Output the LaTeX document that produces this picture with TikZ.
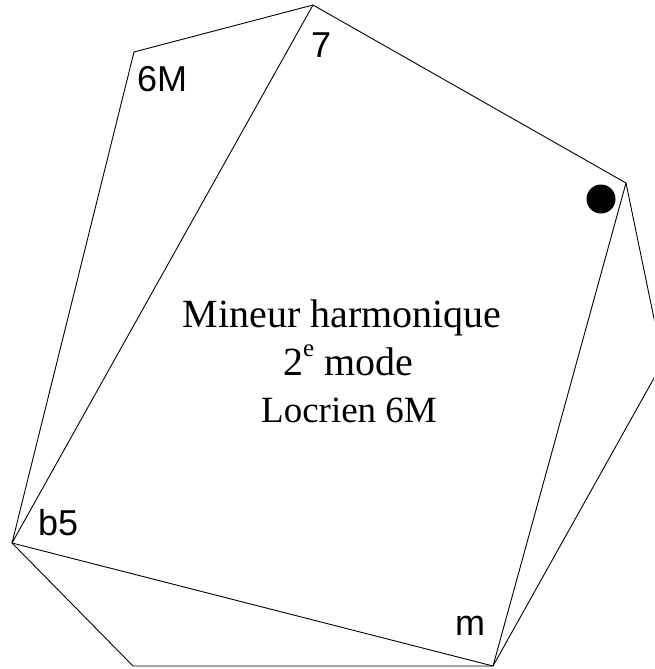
\documentclass[tikz,border=0pt]{standalone}
\usepackage{fontspec}
\setmainfont{Liberation Serif}
\newfontfamily\labfont{Liberation Sans}
\begin{document}
\begin{tikzpicture}[x=1pt,y=-1pt,
  edge/.style={draw=black,line width=0.9pt,line join=miter},
  lab/.style={font=\labfont\fontsize{36}{36}\selectfont,inner sep=0pt,anchor=base west},
  big/.style={font=\fontsize{40}{40}\selectfont,inner sep=0pt,anchor=base},
  small/.style={font=\fontsize{37}{37}\selectfont,inner sep=0pt,anchor=base}]
\useasboundingbox (0,0) rectangle (654,669);
\clip (0,0) rectangle (654,669);
\coordinate (T) at (313,5);
\coordinate (R1) at (626,183);
\coordinate (R2) at (663,362);
\coordinate (M) at (493,666);
\coordinate (B) at (133,666);
\coordinate (L) at (12,543);
\coordinate (S) at (134,52);
\draw[edge] (T) -- (R1) -- (R2) -- (M) -- (B) -- (L) -- (S) -- cycle;
\draw[edge] (T) -- (L) -- (M) -- (R1);
\fill[black] (601,199) circle (14.5);
\node[lab] (l7) at (311,58) {7};
\node[lab] (l6M) at (137,91) {6M};
\node[lab] (lb5) at (38,535) {b5};
\node[lab] (lm) at (455,635) {m};
\node[big] (t1) at (342,327) {Mineur harmonique};
\node[big] (t2) at (348,375) {2\raisebox{19pt}{\fontsize{25}{25}\selectfont e} mode};
\node[small] (t3) at (349,422) {Locrien 6M};
\end{tikzpicture}
\end{document}
